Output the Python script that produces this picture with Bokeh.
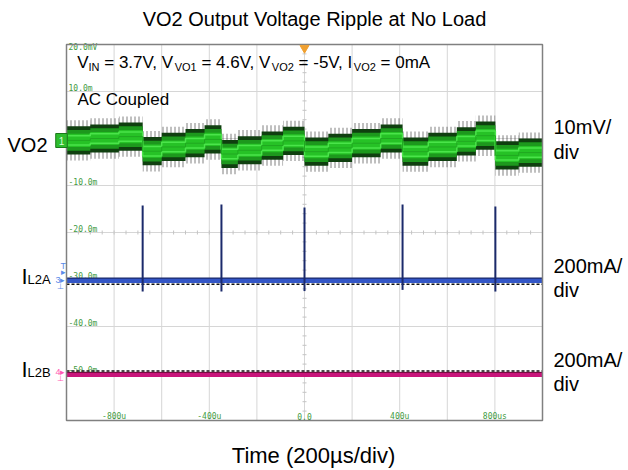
from bokeh.plotting import figure
from bokeh.models import Range1d, Label, ColumnDataSource
from bokeh.core.properties import value
from bokeh.embed import file_html
from bokeh.resources import INLINE

# ---------------- data ----------------
time_grid_us = [-1000, -800, -600, -400, -200, 0, 200, 400, 600, 800, 1000]
volt_grid_mv = [-60, -50, -40, -30, -20, -10, 0, 10, 20]
time_tick_us = [-800, -400, 0, 400, 800]
time_tick_labels = ["-800u", "-400u", "0.0", "400u", "800us"]
volt_tick_mv = [10, -10, -20, -30, -40, -50]
volt_tick_labels = ["10.0m", "-10.0m", "-20.0m", "-30.0m", "-40.0m", "-50.0m"]
top_tick_label = "20.0mV"

# VO2 ripple: staircase level (mV) starting at each time (us)
vo2_step_t_us = [-1000, -900, -780, -680, -600, -500, -420, -349, -280, -180, -90,
                 0, 100, 200, 320, 412, 520, 640, 720, 802, 900, 1000]
vo2_step_mv = [-0.4, 0.0, 0.4, -2.7, -1.8, -1.0, -0.2, -3.3, -2.5, -1.5, -0.5,
               -2.8, -2.0, -1.0, 0.0, -2.8, -1.8, -0.6, 0.6, -3.6, -3.0]
vo2_noise_peak_mv = 4.3
vo2_band_outer_mv = 3.0
vo2_band_mid_mv = 2.2
vo2_band_core_mv = 1.4
vo2_stripe_mv = 1.0

# inductor current pulses
event_t_us = [-680, -349, 0, 412, 802]
il2a_peak_ma = [319, 323, 311, 323, 315]
il2a_dip_ma = [-47, -47, -45, -40, -47]
il2a_level_ma = 0
il2b_level_ma = 0

# ---------------- layout helpers ----------------
W, H = 628, 470
T_MIN, T_MAX = -1000, 1000
V_MIN, V_MAX = -60, 20
FRAME_L, FRAME_T, FRAME_W, FRAME_H = 66, 44, 476, 376   # page px of the scope screen


def tx(px):
    return T_MIN + (px - FRAME_L) / FRAME_W * (T_MAX - T_MIN)


def vy(py):
    return V_MAX - (py - FRAME_T) / FRAME_H * (V_MAX - V_MIN)


MV_PER_DIV, MA_PER_DIV = 10, 200
K = MA_PER_DIV / MV_PER_DIV
Y_LO, Y_HI = vy(H), vy(0)


def ma_range(zero_py):
    v0 = vy(zero_py)
    return Range1d((Y_LO - v0) * K, (Y_HI - v0) * K)


p = figure(width=W, height=H, output_backend="svg", toolbar_location=None,
           x_range=Range1d(tx(0), tx(W)), y_range=Range1d(Y_LO, Y_HI),
           min_border=0, x_axis_type=None, y_axis_type=None)
p.extra_y_ranges = {"il2a": ma_range(280), "il2b": ma_range(374)}
p.outline_line_color = None
p.background_fill_color = "white"
p.border_fill_color = "white"

# graticule
p.segment(x0=time_grid_us, x1=time_grid_us, y0=[V_MIN] * len(time_grid_us),
          y1=[V_MAX] * len(time_grid_us), line_color="#d6d6d6", line_width=1)
p.segment(x0=[T_MIN] * len(volt_grid_mv), x1=[T_MAX] * len(volt_grid_mv),
          y0=volt_grid_mv, y1=volt_grid_mv, line_color="#d6d6d6", line_width=1)

px_us = (T_MAX - T_MIN) / FRAME_W
px_mv = (V_MAX - V_MIN) / FRAME_H
c_t = 0
c_v = -20
minor_v = [V_MIN + i * 2 for i in range(41)]
minor_t = [T_MIN + i * 50 for i in range(41)]
p.segment(x0=[c_t - 2 * px_us] * len(minor_v), x1=[c_t + 2 * px_us] * len(minor_v),
          y0=minor_v, y1=minor_v, line_color="#c4c4c4", line_width=1)
p.segment(x0=minor_t, x1=minor_t, y0=[c_v - 2 * px_mv] * len(minor_t),
          y1=[c_v + 2 * px_mv] * len(minor_t), line_color="#c4c4c4", line_width=1)

# scope graticule labels
SC = "#3f9b3f"
mono = value("DejaVu Sans Mono")
p.text(x=[tx(68)] * len(volt_tick_mv), y=[v + 2.7 * px_mv for v in volt_tick_mv],
       text=volt_tick_labels, text_font=mono, text_font_size="8px",
       text_color=SC, text_baseline="middle", text_align="left")
p.text(x=[tx(68)], y=[vy(47)], text=[top_tick_label], text_font=mono,
       text_font_size="8px", text_color=SC, text_baseline="middle", text_align="left")
p.text(x=time_tick_us, y=[vy(416)] * len(time_tick_us), text=time_tick_labels,
       text_font=mono, text_font_size="8px", text_color=SC,
       text_baseline="middle", text_align="center")

# ---------------- VO2 trace ----------------
sx, sy = [], []
for i, lvl in enumerate(vo2_step_mv):
    sx += [vo2_step_t_us[i], vo2_step_t_us[i + 1]]
    sy += [lvl, lvl]
src = ColumnDataSource(dict(
    x=sx,
    pk_lo=[v - vo2_noise_peak_mv for v in sy], pk_hi=[v + vo2_noise_peak_mv for v in sy],
    o_lo=[v - vo2_band_outer_mv for v in sy], o_hi=[v + vo2_band_outer_mv for v in sy],
    m_lo=[v - vo2_band_mid_mv for v in sy], m_hi=[v + vo2_band_mid_mv for v in sy],
    c_lo=[v - vo2_band_core_mv for v in sy], c_hi=[v + vo2_band_core_mv for v in sy],
    s_lo=[v - vo2_stripe_mv for v in sy], s_hi=[v + vo2_stripe_mv for v in sy],
    mid=sy))
p.varea(x="x", y1="pk_lo", y2="pk_hi", source=src, fill_alpha=0,
        hatch_pattern="|", hatch_color="#2a2a2a", hatch_alpha=0.6,
        hatch_scale=4, hatch_weight=1)
p.varea(x="x", y1="o_lo", y2="o_hi", source=src, fill_color="#0f3f0f")
p.varea(x="x", y1="m_lo", y2="m_hi", source=src, fill_color="#1d981d")
p.varea(x="x", y1="c_lo", y2="c_hi", source=src, fill_color="#26c226")
p.line(x="x", y="s_lo", source=src, line_color="#4ae44a", line_width=1.5)
p.line(x="x", y="s_hi", source=src, line_color="#4ae44a", line_width=1.5)
p.line(x="x", y="mid", source=src, line_color="#20a820", line_width=1)

# ---------------- IL2A trace ----------------
p.line(x=[T_MIN, T_MAX], y=[il2a_level_ma - 16] * 2, y_range_name="il2a",
       line_color="#111111", line_width=1.5, line_dash="3 2")
p.line(x=[T_MIN, T_MAX], y=[il2a_level_ma] * 2, y_range_name="il2a",
       line_color="#3356c6", line_width=5)
p.line(x=[T_MIN, T_MAX], y=[il2a_level_ma + 10] * 2, y_range_name="il2a",
       line_color="#1b2a6b", line_width=1.2)
p.segment(x0=event_t_us, x1=event_t_us, y0=il2a_dip_ma, y1=il2a_peak_ma,
          y_range_name="il2a", line_color="#1b2a6b", line_width=2)

# ---------------- IL2B trace ----------------
p.line(x=[T_MIN, T_MAX], y=[il2b_level_ma + 15] * 2, y_range_name="il2b",
       line_color="#111111", line_width=1.5, line_dash="3 2")
p.line(x=[T_MIN, T_MAX], y=[il2b_level_ma] * 2, y_range_name="il2b",
       line_color="#c8157a", line_width=5)
p.line(x=[T_MIN, T_MAX], y=[il2b_level_ma + 9] * 2, y_range_name="il2b",
       line_color="#6b0b3b", line_width=1)

# scope screen outline
p.quad(left=[T_MIN], right=[T_MAX], bottom=[V_MIN], top=[V_MAX],
       fill_alpha=0, line_color="#808080", line_width=1.5)

# trigger marker
p.scatter(x=[0], y=[vy(47.5)], marker="inverted_triangle", size=9,
          fill_color="#f0a030", line_color="#f0a030")

# ---------------- text ----------------
FONT = "Liberation Sans"
ARIAL = {' ': 278, '\u00a0': 278, '=': 584, '.': 278, ',': 278, '-': 333, 'V': 667,
         'I': 278, 'N': 722, 'O': 778, 'm': 833, 'A': 667, 'L': 556, 'B': 667}
CAP_MID = 0.36   # cap-height centre above the baseline, in em


def tw(s, size):
    return sum(ARIAL.get(c, 556) for c in s) * size / 1000.0


def lab(text, px, py, size, color="black", align="left", baseline="middle",
        font=FONT, **kw):
    p.add_layout(Label(x=tx(px), y=vy(py), text=text, text_font=font,
                       text_font_size=f"{size}px", text_color=color,
                       text_align=align, text_baseline=baseline, **kw))


def at_base(text, px, base_py, size, **kw):
    lab(text, px, base_py - CAP_MID * size, size, **kw)


def runs(parts, px, base_py):
    x = px
    for txt, size, dy in parts:
        txt = txt.replace(" ", "\u00a0")
        at_base(txt, x, base_py + dy, size)
        x += tw(txt, size)


lab("VO2 Output Voltage Ripple at No Load", 314, 18, 20, align="center")
lab("Time (200µs/div)", 313, 455, 22, align="center")

runs([("V", 17, 0), ("IN", 11, 2), (" = 3.7V, V", 17, 0), ("VO1", 11, 2),
      (" = 4.6V, V", 17, 0), ("VO2", 11, 2), (" = -5V, I", 17, 0), ("VO2", 11, 2),
      (" = 0mA", 17, 0)], 76.7, 68.3)
at_base("AC Coupled", 77, 105, 17)

at_base("VO2", 7, 151.5, 20)
runs([("I", 22, 0), ("L2A", 13, 0)], 21, 284)
runs([("I", 22, 0), ("L2B", 13, 0)], 21, 377)

at_base("10mV/", 553, 134, 20)
at_base("div", 553, 159, 20)
at_base("200mA/", 553, 273, 20)
at_base("div", 553, 297, 20)
at_base("200mA/", 553, 367, 20)
at_base("div", 553, 391, 20)

# channel markers
lab("1", 61, 140, 10, color="#d8ffd8", align="center",
    background_fill_color="#2ebd2e", border_line_color="#1a7a1a", padding=3)
lab("3", 55, 279, 9, color="#5a8ae8")
lab("▸", 59.5, 279, 9, color="#5a8ae8")
lab("T", 60, 265, 9, color="#5a8ae8")
lab("▸", 60.5, 271, 9, color="#5a8ae8")
lab("⊥", 56, 286, 8, color="#5a8ae8")
lab("4", 55, 371, 9, color="#ff5ab4")
lab("▸", 59.5, 371, 9, color="#ff5ab4")
lab("⊥", 56, 378, 8, color="#ff5ab4")

open("out.html", "w").write(file_html(p, INLINE))
